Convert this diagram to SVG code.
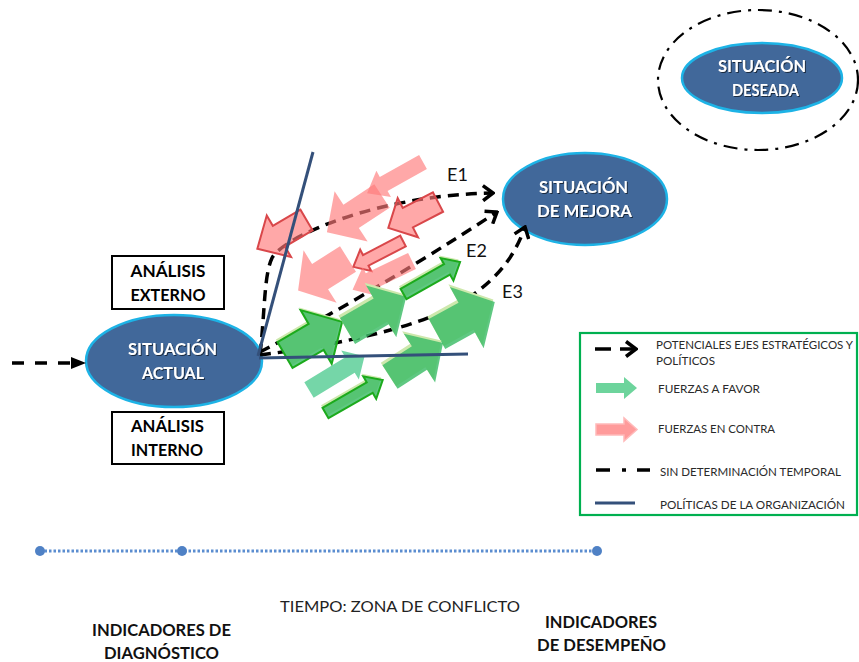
<svg xmlns="http://www.w3.org/2000/svg" width="859" height="662" viewBox="0 0 859 662">
<defs>
<style>
.node{fill:#41689A;stroke:#1DB3E6;stroke-width:2.5}
.nt{font-family:Lato,"Liberation Sans",sans-serif;font-weight:bold;font-size:17px;fill:#fff;text-anchor:middle;filter:url(#ts)}
.bx{fill:#fff;stroke:#000;stroke-width:2}
.bt{font-family:Lato,"Liberation Sans",sans-serif;font-weight:bold;font-size:17px;fill:#000;text-anchor:middle}
.dash{fill:none;stroke:#000;stroke-width:3.5;stroke-dasharray:11 7}
.el{font-family:Lato,"Liberation Sans",sans-serif;font-size:18px;fill:#111}
.red{fill:#FF7A7A;fill-opacity:0.65}
.redb{fill:#FF7A7A;fill-opacity:0.65;stroke:#D9474A;stroke-width:2}
.grn{fill:#3CBC66;fill-opacity:0.82}
.grnb{fill:#3CBC66;fill-opacity:0.82;stroke:#1CAA1C;stroke-width:2}
.grl{fill:#52CC92;fill-opacity:0.8}
.hl{fill:#CDE8AC}
.pol{stroke:#34507A;stroke-width:3;fill:none}
.lt{font-family:Lato,"Liberation Sans",sans-serif;font-size:11.5px;fill:#2a2a2a}
.bot{font-family:Lato,"Liberation Sans",sans-serif;font-weight:bold;font-size:17px;fill:#111;text-anchor:middle}
</style>
<filter id="ts" x="-10%" y="-20%" width="130%" height="150%"><feDropShadow dx="1" dy="1" stdDeviation="0.7" flood-color="#000" flood-opacity="0.6"/></filter>
<marker id="chev" viewBox="0 0 14 18" refX="12" refY="9" markerWidth="14" markerHeight="18" markerUnits="userSpaceOnUse" orient="auto">
<path d="M2,1.5 L12,9 L2,16.5" fill="none" stroke="#000" stroke-width="3.5"/>
</marker>
</defs>
<rect width="859" height="662" fill="#fff"/>

<g id="situacion-deseada">
<ellipse cx="758" cy="80" rx="100" ry="70" fill="none" stroke="#000" stroke-width="2.2" stroke-dasharray="14 7 3 7"/>
<ellipse class="node" cx="762" cy="78" rx="80" ry="35"/>
<text class="nt" x="762" y="72" textLength="88" lengthAdjust="spacingAndGlyphs">SITUACIÓN</text>
<text class="nt" x="765.5" y="96" textLength="67" lengthAdjust="spacingAndGlyphs">DESEADA</text>
</g>

<g id="analisis-externo">
<rect class="bx" x="112" y="256" width="112" height="53"/>
<text class="bt" x="168" y="277" textLength="75" lengthAdjust="spacingAndGlyphs">ANÁLISIS</text>
<text class="bt" x="168" y="301" textLength="75" lengthAdjust="spacingAndGlyphs">EXTERNO</text>
</g>
<g id="analisis-interno">
<rect class="bx" x="112" y="412" width="112" height="52"/>
<text class="bt" x="167.5" y="432" textLength="73" lengthAdjust="spacingAndGlyphs">ANÁLISIS</text>
<text class="bt" x="167" y="456" textLength="72" lengthAdjust="spacingAndGlyphs">INTERNO</text>
</g>

<g id="situacion-actual">
<ellipse class="node" cx="174" cy="361" rx="88" ry="46"/>
<text class="nt" x="172.5" y="355" textLength="89" lengthAdjust="spacingAndGlyphs">SITUACIÓN</text>
<text class="nt" x="173" y="379" textLength="62" lengthAdjust="spacingAndGlyphs">ACTUAL</text>
</g>

<g id="situacion-mejora">
<ellipse class="node" cx="585" cy="199" rx="82" ry="46"/>
<text class="nt" x="583.5" y="193" textLength="89" lengthAdjust="spacingAndGlyphs">SITUACIÓN</text>
<text class="nt" x="584.5" y="217" textLength="95" lengthAdjust="spacingAndGlyphs">DE MEJORA</text>
</g>

<g id="connectors">
<path d="M12,363 L73,363" fill="none" stroke="#000" stroke-width="3.5" stroke-dasharray="12 11"/>
<path d="M86,363 L71,357 L71,369 Z" fill="#000"/>
<path class="dash" d="M260,355 C265,310 264,275 272,258 C285,235 380,195 493,193" marker-end="url(#chev)"/>
<path class="dash" d="M260,352 Q370,295 497,212" marker-end="url(#chev)"/>
<path class="dash" d="M260,355 C340,345 430,325 470,297 C500,276 515,255 525,227" marker-end="url(#chev)"/>
<text class="el" x="447" y="181">E1</text>
<text class="el" x="466" y="257">E2</text>
<text class="el" x="502" y="298">E3</text>
</g>

<g id="fuerzas-en-contra">
<polygon class="red" transform="translate(423,162) rotate(150.9)" points="0,-8 45,-8 45,-15 64,0 45,15 45,8 0,8"/>
<polygon class="red" transform="translate(382,196) rotate(146.6)" points="0,-14 37,-14 37,-30 66,0 37,30 37,14 0,14"/>
<polygon class="redb" transform="translate(306.5,220) rotate(149.6)" points="0,-12 32,-12 32,-24 57,0 32,24 32,12 0,12"/>
<polygon class="redb" transform="translate(438,202) rotate(152.5)" points="0,-11 34,-11 34,-22 56,0 34,22 34,11 0,11"/>
<polygon class="redb" transform="translate(403,241) rotate(152.5)" points="0,-6 42,-6 42,-12 56,0 42,12 42,6 0,6"/>
<polygon class="red" transform="translate(348,259) rotate(147.8)" points="0,-15 33,-15 33,-31 59,0 33,31 33,15 0,15"/>
<polygon class="red" transform="translate(412,261) rotate(154.2)" points="0,-9 47,-9 47,-16 66,0 47,16 47,9 0,9"/>
</g>

<g id="fuerzas-a-favor">
<polygon class="hl" transform="translate(285,355) rotate(-30.1) translate(0,-3)" points="0,-15 36,-15 36,-31 66,0 36,31 36,15 0,15"/>
<polygon class="grnb" transform="translate(285,355) rotate(-30.1)" points="0,-15 36,-15 36,-31 66,0 36,31 36,15 0,15"/>
<polygon class="hl" transform="translate(347.5,331) rotate(-30.2) translate(0,-3)" points="0,-15 39,-15 39,-30 68,0 39,30 39,15 0,15"/>
<polygon class="grn" transform="translate(347.5,331) rotate(-30.2)" points="0,-15 39,-15 39,-30 68,0 39,30 39,15 0,15"/>
<polygon class="hl" transform="translate(403.5,294) rotate(-29.5) translate(0,-3)" points="0,-6 50,-6 50,-13 65,0 50,13 50,6 0,6"/>
<polygon class="grnb" transform="translate(403.5,294) rotate(-29.5)" points="0,-6 50,-6 50,-13 65,0 50,13 50,6 0,6"/>
<polygon class="hl" transform="translate(437,334) rotate(-28.9) translate(0,-3)" points="0,-17 34,-17 34,-35 66,0 34,35 34,17 0,17"/>
<polygon class="grn" transform="translate(437,334) rotate(-28.9)" points="0,-17 34,-17 34,-35 66,0 34,35 34,17 0,17"/>
<polygon class="hl" transform="translate(390,377) rotate(-32.7) translate(0,-3)" points="0,-14 35,-14 35,-29 63,0 35,29 35,14 0,14"/>
<polygon class="grn" transform="translate(390,377) rotate(-32.7)" points="0,-14 35,-14 35,-29 63,0 35,29 35,14 0,14"/>
<polygon class="grl" transform="translate(309,390) rotate(-31.3)" points="0,-9 48,-9 48,-17 65,0 48,17 48,9 0,9"/>
<polygon class="hl" transform="translate(325.5,413) rotate(-29.9) translate(0,-3)" points="0,-6 51,-6 51,-13 66,0 51,13 51,6 0,6"/>
<polygon class="grnb" transform="translate(325.5,413) rotate(-29.9)" points="0,-6 51,-6 51,-13 66,0 51,13 51,6 0,6"/>
</g>

<g id="politicas">
<line class="pol" x1="258" y1="356" x2="313" y2="152"/>
<line class="pol" x1="259" y1="358" x2="468" y2="354"/>
</g>

<g id="leyenda">
<rect x="580" y="333" width="277" height="182" fill="#fff" stroke="#00B050" stroke-width="2.2"/>
<line x1="595" y1="349" x2="611" y2="349" stroke="#000" stroke-width="3.5"/>
<line x1="620" y1="349" x2="636" y2="349" stroke="#000" stroke-width="3.5" marker-end="url(#chev)"/>
<text class="lt" x="656" y="349" textLength="197" lengthAdjust="spacingAndGlyphs">POTENCIALES EJES ESTRATÉGICOS Y</text>
<text class="lt" x="656" y="365" textLength="59" lengthAdjust="spacingAndGlyphs">POLÍTICOS</text>
<polygon points="596,383 624,383 624,377 637,388 624,399 624,393 596,393" fill="#6DD49C"/>
<text class="lt" x="658" y="393" textLength="102" lengthAdjust="spacingAndGlyphs">FUERZAS A FAVOR</text>
<polygon points="596,424 624,424 624,418 637,429.5 624,441 624,435 596,435" fill="#FF9B9B" stroke="#FFB9B9" stroke-width="1.5"/>
<text class="lt" x="658" y="433" textLength="117" lengthAdjust="spacingAndGlyphs">FUERZAS EN CONTRA</text>
<line x1="596" y1="470" x2="650" y2="470" stroke="#000" stroke-width="3.5" stroke-dasharray="14 12 4 11"/>
<text class="lt" x="660" y="476" textLength="181" lengthAdjust="spacingAndGlyphs">SIN DETERMINACIÓN TEMPORAL</text>
<line x1="595" y1="503" x2="635" y2="503" stroke="#34507A" stroke-width="3"/>
<text class="lt" x="660" y="509" textLength="185" lengthAdjust="spacingAndGlyphs">POLÍTICAS DE LA ORGANIZACIÓN</text>
</g>

<g id="tiempo">
<line x1="40" y1="551" x2="597" y2="551" stroke="#5B8DD0" stroke-width="3" stroke-dasharray="2.5 2"/>
<circle cx="40" cy="551" r="5" fill="#4F81C5"/>
<circle cx="182" cy="551" r="5" fill="#4F81C5"/>
<circle cx="597" cy="551" r="5" fill="#4F81C5"/>
<text x="400" y="612" font-family="Lato,'Liberation Sans',sans-serif" font-size="16" fill="#222" text-anchor="middle" textLength="240" lengthAdjust="spacingAndGlyphs">TIEMPO: ZONA DE CONFLICTO</text>
<text class="bot" x="161.5" y="636" textLength="139" lengthAdjust="spacingAndGlyphs">INDICADORES DE</text>
<text class="bot" x="161.5" y="659" textLength="115" lengthAdjust="spacingAndGlyphs">DIAGNÓSTICO</text>
<text class="bot" x="601" y="628" textLength="112" lengthAdjust="spacingAndGlyphs">INDICADORES</text>
<text class="bot" x="601.5" y="651" textLength="129" lengthAdjust="spacingAndGlyphs">DE DESEMPEÑO</text>
</g>
</svg>
